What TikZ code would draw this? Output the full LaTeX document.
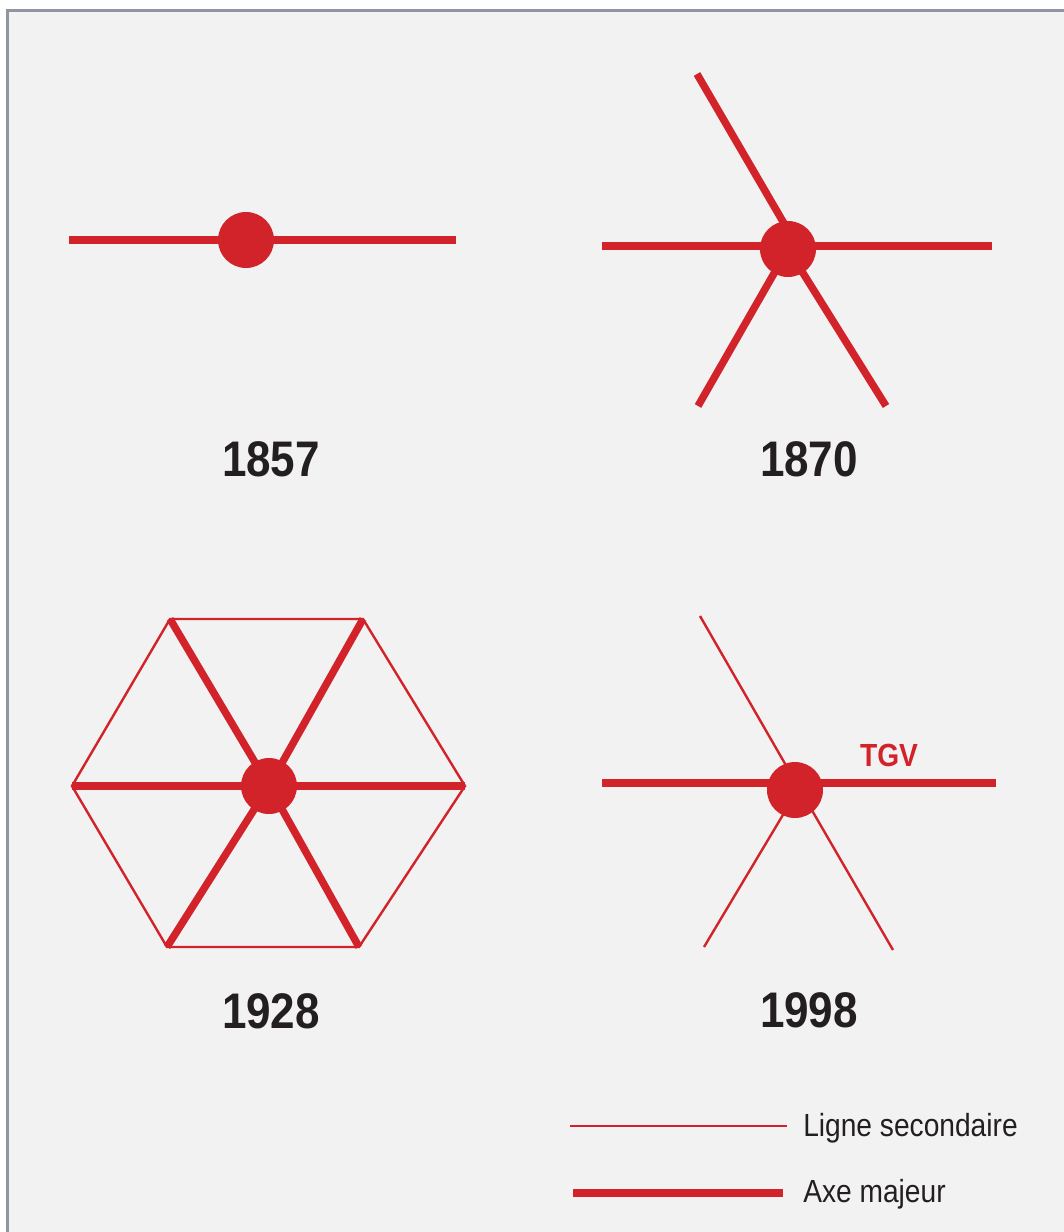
\documentclass[tikz,border=0pt]{standalone}
\usepackage{fontspec}
\setmainfont{Liberation Sans}[FakeStretch=0.88]
\definecolor{rail}{HTML}{D2232A}
\definecolor{panel}{HTML}{F2F2F2}
\definecolor{frame}{HTML}{9095A1}
\definecolor{ink}{HTML}{231F20}
\tikzset{
  major/.style={
    draw=rail,
    line width=5.6pt
  },
  minor/.style={
    draw=rail,
    line width=1.8pt
  },
  hub/.style={
    circle,
    fill=rail,
    minimum size=42pt,
    inner sep=0pt
  },
  year/.style={
    text=ink,
    font=\fontsize{37.5}{40}\selectfont\bfseries
  },
  tag/.style={
    text=rail,
    font=\fontsize{24}{26}\selectfont\bfseries
  },
  legendtext/.style={
    text=ink,
    font=\fontsize{24}{26}\selectfont,
    anchor=base west,
    inner sep=0pt
  }
}

\begin{document}
\begin{tikzpicture}[x=0.75pt, y=-0.75pt]
  \useasboundingbox (0,0) rectangle (1064,1232);
  \fill[white] (0,0) rectangle (1064,1232);
  \filldraw[fill=panel, draw=frame, line width=2.3pt]
    (7.5,10.5) rectangle (1075,1245);

  % 1857
  \coordinate (c57) at (246,240);
  \coordinate (w57) at (69,240);
  \coordinate (e57) at (456,240);
  \draw[major] (w57) -- (e57);
  \node[hub] (dot57) at (c57) {};
  \node[year] (y57) at (271,459) {1857};

  % 1870
  \coordinate (c70) at (788,249);
  \coordinate (k70) at (796,244);
  \coordinate (w70) at (602,246);
  \coordinate (e70) at (992,246);
  \coordinate (nw70) at (697,74);
  \coordinate (sw70) at (698,406);
  \coordinate (se70) at (886,406);
  \draw[major] (w70) -- (e70);
  \draw[major] (nw70) -- (k70);
  \foreach \e in {sw70,se70}{
    \draw[major] (c70) -- (\e);
  }
  \node[hub] (dot70) at (c70) {};
  \node[year] (y70) at (809,459) {1870};

  % 1928
  \coordinate (c28) at (269,786);
  \coordinate (h1) at (170,619);
  \coordinate (h2) at (363,619);
  \coordinate (h3) at (465,786);
  \coordinate (h4) at (359,947);
  \coordinate (h5) at (167,947);
  \coordinate (h6) at (72,786);
  \draw[minor] (h1) -- (h2) -- (h3) -- (h4) -- (h5) -- (h6) -- cycle;
  \foreach \v in {h1,h2,h3,h4,h5,h6}{
    \draw[major] (c28) -- (\v);
  }
  \node[hub] (dot28) at (c28) {};
  \node[year] (y28) at (271,1011) {1928};

  % 1998
  \coordinate (c98) at (795,790);
  \coordinate (k98) at (799,788);
  \coordinate (w98) at (602,783);
  \coordinate (e98) at (996,783);
  \coordinate (nw98) at (700,616);
  \coordinate (sw98) at (704,947);
  \coordinate (se98) at (893,950);
  \draw[major] (w98) -- (e98);
  \foreach \e in {nw98,sw98,se98}{
    \draw[minor] (k98) -- (\e);
  }
  \node[hub] (dot98) at (c98) {};
  \node[tag] (tgv) at (889,755) {TGV};
  \node[year] (y98) at (809,1010) {1998};

  % legend
  \coordinate (la) at (570,1126);
  \coordinate (lb) at (787,1126);
  \coordinate (ma) at (573,1193);
  \coordinate (mb) at (783,1193);
  \draw[minor, line width=1.5pt] (la) -- (lb);
  \draw[major, line width=6pt] (ma) -- (mb);
  \node[legendtext] (lsec) at (803,1136) {Ligne secondaire};
  \node[legendtext] (lmaj) at (803,1202) {Axe majeur};
\end{tikzpicture}
\end{document}
